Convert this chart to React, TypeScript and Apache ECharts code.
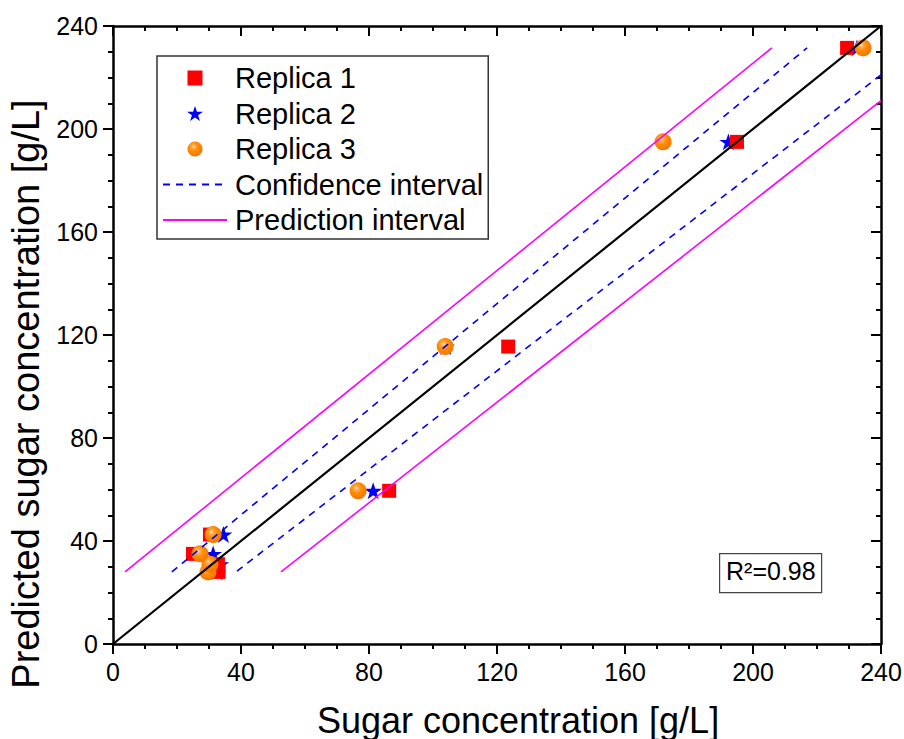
import React, { useEffect, useRef } from "react";
import * as echarts from "echarts";

// Predicted sugar concentration for each sample [g/L]
const predicted = [28, 31, 35, 42.5, 59.5, 115.5, 195, 231.5];
// Measured sugar concentration per replica [g/L]
const replica1 = [33, 32.8, 25, 30.3, 86.3, 123.5, 195, 229.4];
const replica2 = [32.5, 33.5, 31.3, 34.5, 81.3, 104, 192.3, 232.5];
const replica3 = [29.7, 30.3, 27.2, 31.3, 76.6, 103.8, 171.9, 234.4];

// Interval lines (x, y pairs)
const ciUpperX = [18.4, 216.9];
const ciUpperY = [28, 231.5];
const ciLowerX = [38.75, 240];
const ciLowerY = [28.3, 221];
const piUpperX = [3.75, 205.9];
const piUpperY = [28, 231.5];
const piLowerX = [52.5, 240];
const piLowerY = [28, 211];
const identityX = [0, 240];
const identityY = [0, 240];

const axisTicks = [0, 40, 80, 120, 160, 200, 240];
const r2Label = "R²=0.98";

const FONT = "'Liberation Sans', Arial, sans-serif";
const STAR =
  "path://M50,0 L61.8,35.1 L99,35.1 L68.9,56.8 L80.4,91.9 L50,70.2 L19.6,91.9 L31.1,56.8 L1,35.1 L38.2,35.1 Z";
const SQUARE = "path://M0,0 L10,0 L10,10 L0,10 Z";

const zip = (xs: number[], ys: number[]) => xs.map((x, i) => [x, ys[i]]);

export default function App() {
  const ref = useRef<HTMLDivElement>(null);
  useEffect(() => {
    if (!ref.current) return;
    const chart = echarts.init(ref.current, undefined, { renderer: "svg" });
    const min = axisTicks[0];
    const max = axisTicks[axisTicks.length - 1];
    const interval = axisTicks[1] - axisTicks[0];
    const baseAxis = {
      type: "value",
      min,
      max,
      interval,
      splitLine: { show: false },
      axisLine: { show: true, onZero: false, lineStyle: { color: "#000", width: 2.5 } },
      minorTick: { show: true, splitNumber: 4, length: 5, lineStyle: { color: "#000", width: 2 } },
    };
    const mainAxis = (extra: any) => ({
      ...baseAxis,
      axisTick: { show: true, inside: false, length: 10, lineStyle: { color: "#000", width: 2 } },
      axisLabel: { color: "#000", fontSize: 25, fontFamily: FONT, margin: 15 },
      nameLocation: "middle",
      ...extra,
    });
    const mirrorAxis = (extra: any) => ({
      ...baseAxis,
      axisTick: { show: true, inside: true, length: 10, lineStyle: { color: "#000", width: 2 } },
      axisLabel: { show: false },
      ...extra,
    });
    const ballColor = {
      type: "radial",
      x: 0.4,
      y: 0.35,
      r: 0.65,
      colorStops: [
        { offset: 0, color: "#fff4e6" },
        { offset: 0.15, color: "#ffb050" },
        { offset: 0.5, color: "#ff8a00" },
        { offset: 1, color: "#f07800" },
      ],
    };
    const lineLegendStyle = { opacity: 0 };
    chart.setOption({
      animation: false,
      backgroundColor: "#fff",
      textStyle: { fontFamily: FONT },
      grid: {
        left: 113,
        top: 26,
        right: 23,
        bottom: 95,
        containLabel: false,
        outerBoundsMode: "none",
      },
      xAxis: [
        mainAxis({
          position: "bottom",
          name: "Sugar concentration [g/L]",
          nameGap: 58,
          nameTextStyle: {
            color: "#000",
            fontSize: 36,
            lineHeight: 36,
            fontFamily: FONT,
            padding: [0, 0, 0, 42],
          },
        }),
        mirrorAxis({ position: "top" }),
      ],
      yAxis: [
        mainAxis({
          position: "left",
          name: "Predicted sugar concentration [g/L]",
          nameGap: 61,
          nameTextStyle: { color: "#000", fontSize: 38, fontFamily: FONT, padding: [0, 118, 0, 0] },
        }),
        mirrorAxis({ position: "right" }),
      ],
      legend: {
        left: 157,
        top: 56,
        orient: "vertical",
        padding: [7, 5, 4, 5],
        itemGap: 5.5,
        itemWidth: 64,
        itemHeight: 15,
        symbolKeepAspect: true,
        borderColor: "#333",
        borderWidth: 1.5,
        borderRadius: 0,
        textStyle: {
          fontSize: 29,
          fontFamily: FONT,
          color: "#000",
          lineHeight: 30,
          padding: [0, 0, 0, 3],
        },
        data: [
          { name: "Replica 1", icon: SQUARE, itemStyle: { color: "#ff0000", opacity: 1 } },
          { name: "Replica 2" },
          { name: "Replica 3" },
          { name: "Confidence interval", itemStyle: lineLegendStyle },
          { name: "Prediction interval", itemStyle: lineLegendStyle },
        ],
      },
      series: [
        {
          name: "Replica 2",
          type: "scatter",
          symbol: STAR,
          symbolSize: 18,
          symbolKeepAspect: true,
          itemStyle: { color: "#0000ff", opacity: 1 },
          data: zip(replica2, predicted),
          z: 2,
        },
        {
          name: "Replica 1",
          type: "scatter",
          symbol: "rect",
          symbolSize: 14,
          itemStyle: { color: "#ff0000", opacity: 1 },
          data: zip(replica1, predicted),
          z: 3,
        },
        {
          name: "Replica 3",
          type: "scatter",
          symbol: "circle",
          symbolSize: 17,
          itemStyle: { color: ballColor, opacity: 1 },
          data: zip(replica3, predicted),
          z: 4,
        },
        {
          name: "Confidence interval",
          type: "line",
          symbol: "none",
          showSymbol: false,
          itemStyle: { color: "#0000ff" },
          lineStyle: { color: "#0000ff", width: 1.6, type: [7, 6] },
          data: zip(ciUpperX, ciUpperY),
          z: 5,
        },
        {
          name: "Confidence interval",
          type: "line",
          symbol: "none",
          showSymbol: false,
          itemStyle: { color: "#0000ff" },
          lineStyle: { color: "#0000ff", width: 1.6, type: [7, 6] },
          data: zip(ciLowerX, ciLowerY),
          z: 5,
        },
        {
          name: "Prediction interval",
          type: "line",
          symbol: "none",
          showSymbol: false,
          itemStyle: { color: "#ff00ff" },
          lineStyle: { color: "#ff00ff", width: 1.6 },
          data: zip(piUpperX, piUpperY),
          z: 5,
        },
        {
          name: "Prediction interval",
          type: "line",
          symbol: "none",
          showSymbol: false,
          itemStyle: { color: "#ff00ff" },
          lineStyle: { color: "#ff00ff", width: 1.6 },
          data: zip(piLowerX, piLowerY),
          z: 5,
        },
        {
          name: "Fit",
          type: "line",
          symbol: "none",
          itemStyle: { color: "#000" },
          lineStyle: { color: "#000", width: 2.2 },
          data: zip(identityX, identityY),
          z: 6,
        },
      ],
      graphic: [
        {
          type: "rect",
          left: 719,
          top: 553,
          shape: { width: 102, height: 39 },
          style: { fill: "#fff", stroke: "#444", lineWidth: 1.2 },
          z: 10,
        },
        {
          type: "text",
          left: 726,
          top: 558,
          style: { text: r2Label, fontSize: 25, fontFamily: FONT, fill: "#000" },
          z: 11,
        },
      ],
    });
    return () => chart.dispose();
  }, []);
  return (
    <div
      ref={ref}
      style={{ position: "fixed", left: 0, top: 0, width: 904, height: 739 }}
    />
  );
}
